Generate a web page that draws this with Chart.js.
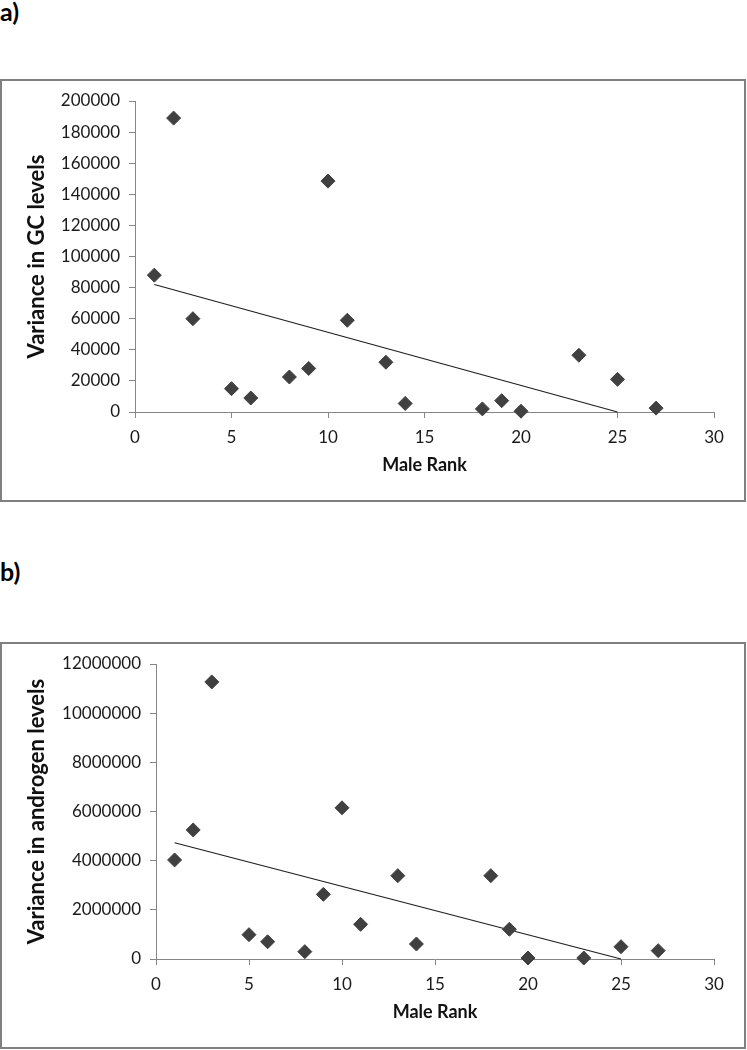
<!DOCTYPE html>
<html>
<head>
<meta charset="utf-8">
<script src="https://cdn.jsdelivr.net/npm/chart.js@4/dist/chart.umd.min.js"></script>
<style>
  html, body { margin: 0; padding: 0; background: #fff; }
  body { width: 747px; height: 1050px; position: relative; overflow: hidden; font-family: Lato, sans-serif; }
  .tag { position: absolute; left: 0; font-weight: bold; font-size: 25px; line-height: 25px; color: #000; }
  .box { position: absolute; left: 0; width: 746px; box-sizing: border-box; border: 2px solid #808080; background: #fff; }
  .box canvas { display: block; }
</style>
</head>
<body>
<div class="tag" style="top:-1px">a)</div>
<div class="box" style="top:79px;height:423px"><canvas id="chartA" width="742" height="419"></canvas></div>
<div class="tag" style="top:559px">b)</div>
<div class="box" style="top:642px;height:407px"><canvas id="chartB" width="742" height="403"></canvas></div>
<script>
// Male rank of each individual (same for both panels)
const maleRank = [1, 2, 3, 5, 6, 8, 9, 10, 11, 13, 14, 18, 19, 20, 23, 25, 27];

// a) variance in GC levels
const gcVariance = [88000, 189000, 60000, 15000, 9000, 22500, 28000, 148500, 59000, 32000, 5500, 2000, 7300, 500, 36500, 21000, 2500];
const gcTrendX = [1, 25];
const gcTrendY = [82000, 0];
const gcTicks = [0, 200000, 20000];

// b) variance in androgen levels
const andVariance = [4030000, 5250000, 11270000, 990000, 700000, 300000, 2630000, 6150000, 1410000, 3390000, 610000, 3390000, 1210000, 40000, 40000, 500000, 340000];
const andTrendX = [1, 25];
const andTrendY = [4730000, 0];
const andTicks = [0, 12000000, 2000000];

const rankTicks = [0, 30, 5];

const axisGray = '#868686';
const markColor = '#404040';

function pairs(xs, ys) {
    return xs.map((x, i) => ({ x: x, y: ys[i] }));
}

function makeChart(id, values, trendX, trendY, yTicks, yTitle, yWidth, plotBottom) {
    const canvas = document.getElementById(id);
    const h = canvas.height;
    return new Chart(canvas, {
        type: 'scatter',
        data: {
            datasets: [
                {
                    data: pairs(maleRank, values),
                    pointStyle: 'rectRot',
                    pointRadius: 7,
                    pointHoverRadius: 7,
                    backgroundColor: markColor,
                    borderColor: markColor,
                    borderWidth: 1,
                    clip: false
                },
                {
                    type: 'line',
                    data: pairs(trendX, trendY),
                    borderColor: '#1e1e1e',
                    borderWidth: 1.2,
                    pointRadius: 0,
                    fill: false,
                    clip: false
                }
            ]
        },
        options: {
            responsive: false,
            animation: false,
            layout: {
                padding: { left: 0, top: 20, right: 30, bottom: h - plotBottom - 64 }
            },
            plugins: {
                legend: { display: false },
                tooltip: { enabled: false }
            },
            scales: {
                x: {
                    type: 'linear',
                    min: rankTicks[0],
                    max: rankTicks[1],
                    afterFit: s => { s.height = 64; },
                    border: { color: axisGray, width: 1 },
                    grid: { drawOnChartArea: false, drawTicks: true, tickLength: 6, color: axisGray },
                    ticks: {
                        stepSize: rankTicks[2],
                        padding: 9,
                        color: '#1a1a1a',
                        font: { family: 'Lato', size: 17 },
                        maxRotation: 0
                    },
                    title: {
                        display: true,
                        text: 'Male Rank',
                        color: '#111',
                        font: { family: 'Lato', size: 18, weight: 'bold' },
                        padding: { top: 0, bottom: 0 }
                    }
                },
                y: {
                    type: 'linear',
                    min: yTicks[0],
                    max: yTicks[1],
                    afterFit: s => { s.width = yWidth; },
                    border: { color: axisGray, width: 1 },
                    grid: { drawOnChartArea: false, drawTicks: true, tickLength: 6, color: axisGray },
                    ticks: {
                        stepSize: yTicks[2],
                        padding: 9,
                        color: '#1a1a1a',
                        font: { family: 'Lato', size: 17 },
                        callback: v => String(v)
                    },
                    title: {
                        display: true,
                        text: yTitle,
                        color: '#111',
                        font: { family: 'Lato', size: 22, weight: 'bold' },
                        padding: { top: 22, bottom: 0 }
                    }
                }
            }
        }
    });
}

makeChart('chartA', gcVariance, gcTrendX, gcTrendY, gcTicks, 'Variance in GC levels', 133, 331);
makeChart('chartB', andVariance, andTrendX, andTrendY, andTicks, 'Variance in androgen levels', 154, 315);
</script>
</body>
</html>
